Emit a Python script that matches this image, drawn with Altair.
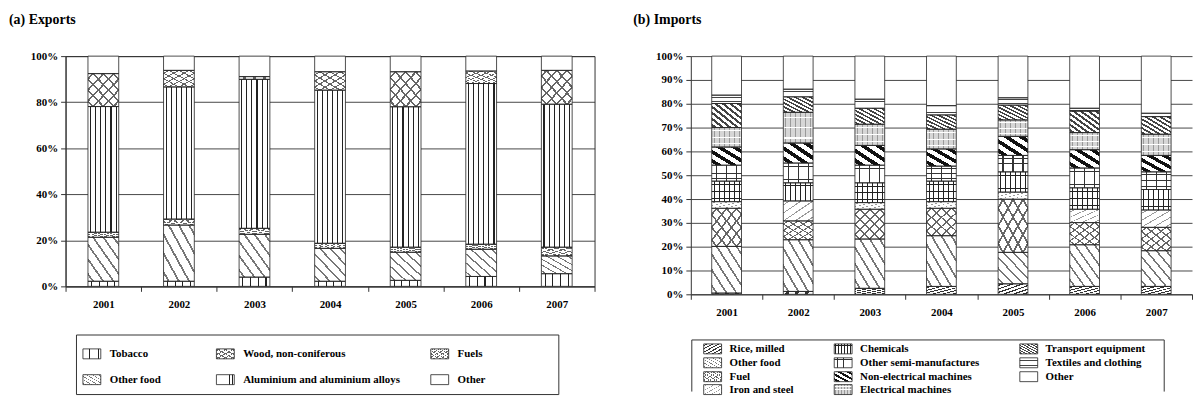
import altair as alt
import pandas as pd

# ---------------- data ----------------
years = ["2001", "2002", "2003", "2004", "2005", "2006", "2007"]

# (a) Exports, shares in % (bottom to top)
exp_cats = ["Tobacco", "Other food", "Wood, non-coniferous",
            "Aluminium and aluminium alloys", "Fuels", "Other"]
exp_tobacco = [2.2, 2.2, 4.0, 2.2, 2.6, 4.3, 5.5]
exp_other_food = [19.1, 24.4, 18.6, 14.3, 12.2, 11.8, 7.7]
exp_wood = [2.2, 2.6, 2.6, 2.2, 2.2, 2.2, 3.8]
exp_aluminium = [54.6, 57.4, 64.7, 66.5, 61.0, 69.8, 62.1]
exp_fuels = [14.3, 7.2, 1.2, 8.0, 15.2, 5.4, 14.7]
exp_other = [7.6, 6.2, 8.9, 6.8, 6.8, 6.5, 6.2]

# (b) Imports, shares in % (bottom to top)
imp_cats = ["Rice, milled", "Other food", "Fuel", "Iron and steel", "Chemicals",
            "Other semi-manufactures", "Non-electrical machines",
            "Electrical machines", "Transport equipment",
            "Textiles and clothing", "Other"]
imp_rice = [0.5, 1.2, 2.5, 3.3, 4.4, 3.3, 3.3]
imp_other_food = [19.6, 21.7, 20.7, 21.3, 13.2, 17.5, 15.0]
imp_fuel = [16.0, 7.9, 12.5, 11.5, 22.3, 9.3, 9.8]
imp_iron = [2.8, 8.4, 2.8, 2.8, 3.0, 5.6, 7.3]
imp_chemicals = [8.6, 7.6, 8.3, 8.6, 8.5, 9.0, 8.6]
imp_semi = [6.7, 8.3, 7.4, 6.3, 6.9, 8.3, 7.4]
imp_nonelec = [7.6, 8.4, 8.3, 7.2, 8.0, 7.7, 6.9]
imp_elec = [8.2, 12.9, 8.9, 8.3, 6.9, 7.2, 8.9]
imp_transport = [10.1, 6.5, 6.7, 6.0, 6.2, 9.0, 7.4]
imp_textiles = [3.5, 3.2, 3.8, 3.9, 3.1, 1.2, 1.4]
imp_other = [16.4, 13.9, 18.1, 20.8, 17.5, 21.9, 24.0]

exp_series = [exp_tobacco, exp_other_food, exp_wood, exp_aluminium, exp_fuels, exp_other]
imp_series = [imp_rice, imp_other_food, imp_fuel, imp_iron, imp_chemicals, imp_semi,
              imp_nonelec, imp_elec, imp_transport, imp_textiles, imp_other]


def long_df(cats, series):
    rows = []
    for k, (c, vals) in enumerate(zip(cats, series)):
        for yr, v in zip(years, vals):
            rows.append({"year": yr, "cat": c, "order": k, "share": v})
    return pd.DataFrame(rows)


exp_df = long_df(exp_cats, exp_series)
imp_df = long_df(imp_cats, imp_series)

# ---------------- hatch patterns (as striped gradients) ----------------
CLEAR = "rgba(255,255,255,0)"
ORIENT = {"v": (0, 0, 1, 0), "h": (0, 0, 0, 1), "fs": (0, 0, 1, 1), "bs": (0, 1, 1, 0)}


def stripes(n, frac, color, orient):
    x1, y1, x2, y2 = ORIENT[orient]
    stops = [alt.GradientStop(offset=0, color=CLEAR)]
    half = frac / (2 * n)
    for i in range(n):
        c = (i + 0.5) / n
        a, b = max(c - half, 0), min(c + half, 1)
        stops += [alt.GradientStop(offset=a, color=CLEAR),
                  alt.GradientStop(offset=a, color=color),
                  alt.GradientStop(offset=b, color=color),
                  alt.GradientStop(offset=b, color=CLEAR)]
    stops.append(alt.GradientStop(offset=1, color=CLEAR))
    return alt.LinearGradient(gradient="linear", stops=stops, x1=x1, y1=y1, x2=x2, y2=y2)


exp_patterns = {
    "Tobacco": [stripes(4, 0.14, "#222", "v")],
    "Other food": [stripes(6, 0.2, "#777", "bs")],
    "Wood, non-coniferous": [stripes(5, 0.2, "#666", "fs"), stripes(5, 0.2, "#666", "bs")],
    "Aluminium and aluminium alloys": [stripes(6, 0.22, "#222", "v")],
    "Fuels": [stripes(6, 0.2, "#666", "fs"), stripes(6, 0.2, "#666", "bs")],
    "Other": [],
}
imp_patterns = {
    "Rice, milled": [stripes(6, 0.35, "#333", "fs")],
    "Other food": [stripes(6, 0.2, "#777", "bs")],
    "Fuel": [stripes(6, 0.2, "#666", "fs"), stripes(6, 0.2, "#666", "bs")],
    "Iron and steel": [stripes(5, 0.15, "#999", "fs")],
    "Chemicals": [stripes(6, 0.2, "#222", "v"), stripes(3, 0.12, "#222", "h")],
    "Other semi-manufactures": [stripes(3, 0.12, "#333", "h"), stripes(3, 0.12, "#333", "v")],
    "Non-electrical machines": [stripes(4, 0.45, "#111", "bs")],
    "Electrical machines": ["#d6d6d6", stripes(6, 0.2, "#999", "v"), stripes(3, 0.15, "#fff", "h")],
    "Transport equipment": [stripes(8, 0.45, "#444", "bs")],
    "Textiles and clothing": [stripes(2, 0.2, "#444", "h")],
    "Other": [],
}

SERIF = "Liberation Serif"


def bar_panel(df, cats, patterns, width, height, barw, yvals, title, title_dx, title_offset, frame):
    def base():
        return alt.Chart(df).transform_stack(
            stack="share", groupby=["year"], as_=["y0", "y1"], offset="normalize",
            sort=[alt.SortField(field="order", order="ascending")])

    x = alt.X("year:N", title=None, scale=alt.Scale(paddingInner=0, paddingOuter=0),
              axis=alt.Axis(labelAngle=0, tickBand="extent", tickSize=5, labelPadding=7,
                            grid=False, domainColor="#333", tickColor="#333"))
    y = alt.Y("y0:Q", title=None, scale=alt.Scale(domain=[0, 1], nice=False),
              axis=alt.Axis(values=yvals, format=".0%", grid=True, gridColor="#333",
                            gridWidth=0.9, tickSize=5, labelPadding=3,
                            domainColor="#333", tickColor="#333"))
    y2 = alt.Y2("y1:Q")

    layers = [base().mark_bar(fill="white", width=barw).encode(x=x, y=y, y2=y2)]
    for c in cats:
        for p in patterns[c]:
            layers.append(base().transform_filter(alt.datum.cat == c)
                          .mark_bar(fill=p, width=barw).encode(x=x, y=y, y2=y2))
    layers.append(base().mark_bar(fill="white", fillOpacity=0, stroke="#222",
                                  strokeWidth=0.8, width=barw).encode(x=x, y=y, y2=y2))
    return alt.layer(*layers).properties(
        width=width, height=height,
        title=alt.TitleParams(text=title, anchor="start", frame="group", dx=title_dx,
                              offset=title_offset, font=SERIF, fontSize=14,
                              fontWeight="bold", color="black"),
        view=alt.ViewBackground(stroke=frame),
    )


def legend_panel(cats, patterns, nrows, col_pos, row_pos, text_dx, width, height, box):
    leg_df = pd.DataFrame({"cat": cats,
                           "col": [i // nrows for i in range(len(cats))],
                           "row": [i % nrows for i in range(len(cats))]})
    x = alt.X("col:Q", axis=None,
              scale=alt.Scale(domain=list(range(len(col_pos))), range=col_pos, zero=False, nice=False))
    y = alt.Y("row:Q", axis=None,
              scale=alt.Scale(domain=list(range(len(row_pos))), range=row_pos, zero=False, nice=False))
    shape = "M-0.9,-0.5H0.9V0.5H-0.9Z"
    layers = [alt.Chart(leg_df).mark_point(shape=shape, size=400, filled=True, fill="white",
                                           opacity=1, strokeWidth=0).encode(x=x, y=y)]
    for c in cats:
        for p in patterns[c]:
            layers.append(alt.Chart(leg_df).transform_filter(alt.datum.cat == c)
                          .mark_point(shape=shape, size=400, filled=True, fill=p,
                                      opacity=1, strokeWidth=0).encode(x=x, y=y))
    layers.append(alt.Chart(leg_df).mark_point(shape=shape, size=400, filled=False,
                                               stroke="#222", strokeWidth=0.8, opacity=1)
                  .encode(x=x, y=y))
    layers.append(alt.Chart(leg_df).mark_text(align="left", baseline="middle", dx=text_dx,
                                              font=SERIF, fontSize=11, fontWeight="bold",
                                              color="black")
                  .encode(x=x, y=y, text="cat:N"))
    layers = box + layers
    return alt.layer(*layers).properties(width=width, height=height,
                                         view=alt.ViewBackground(stroke="transparent"))


barL = bar_panel(exp_df, exp_cats, exp_patterns, 533, 232, 31,
                 [0, 0.2, 0.4, 0.6, 0.8, 1.0], "(a) Exports", -57, 23, "#333")
barR = bar_panel(imp_df, imp_cats, imp_patterns, 505, 240, 30,
                 [i / 10 for i in range(11)], "(b) Imports", -58, 23, "transparent")

frame_src = pd.DataFrame({"k": [0]})
boxL = [alt.Chart(frame_src).mark_rect(fill="white", stroke="#333", strokeWidth=1).encode(
    x=alt.value(11), x2=alt.value(497), y=alt.value(0), y2=alt.value(60))]
boxR = [
    alt.Chart(frame_src).mark_rule(color="#333", strokeWidth=1).encode(
        x=alt.value(1), x2=alt.value(477), y=alt.value(5)),
    alt.Chart(frame_src).mark_rule(color="#333", strokeWidth=1).encode(
        x=alt.value(1), y=alt.value(5), y2=alt.value(57)),
    alt.Chart(frame_src).mark_rule(color="#333", strokeWidth=1).encode(
        x=alt.value(477), y=alt.value(5), y2=alt.value(57)),
]

legL = legend_panel(exp_cats, exp_patterns, 2, [26.5, 161, 377], [19, 45], 18, 497, 60, boxL)
legR = legend_panel(imp_cats, imp_patterns, 4, [22, 153.5, 340.5], [14, 28, 42, 55], 17, 477, 57, boxR)

chart = alt.concat(barL, barR, legL, legR, columns=2, bounds="flush",
                   spacing={"row": 41, "column": 97}).properties(
    padding={"left": 0, "top": 3, "right": 0, "bottom": 0}
).configure_axis(
    labelFont=SERIF, labelFontWeight="bold", labelFontSize=11, labelColor="black"
).configure_view(stroke="#333")

chart.save("out.html", embed_options={"renderer": "svg", "actions": False})
